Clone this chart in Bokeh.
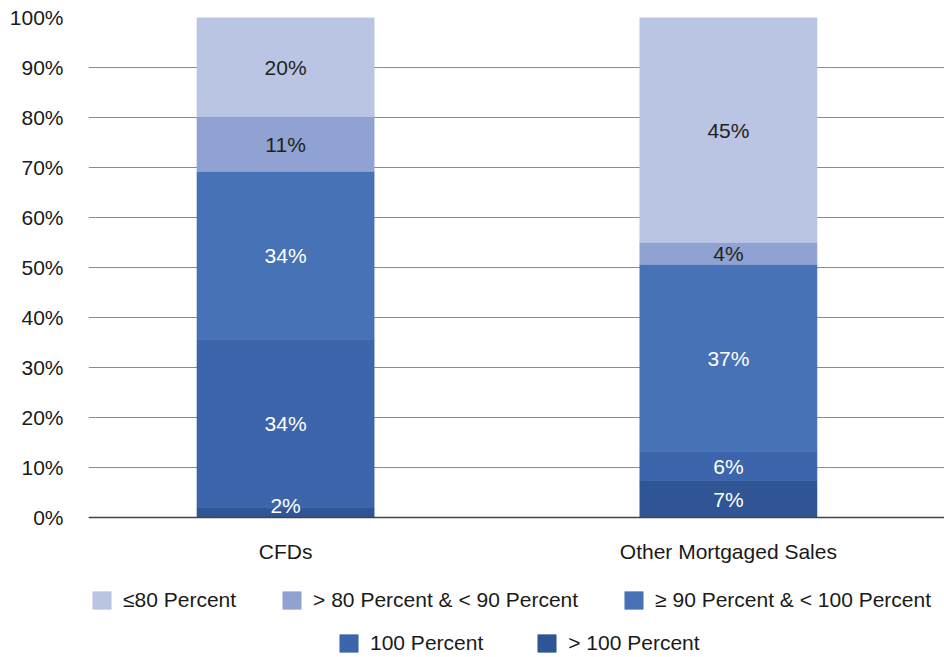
from bokeh.plotting import figure
from bokeh.models import Range1d, Legend, LegendItem, FixedTicker
from bokeh.embed import file_html
from bokeh.resources import INLINE
from bokeh.core.properties import value

# ---- data ----
categories = ["CFDs", "Other Mortgaged Sales"]
series_names = [
    "> 100 Percent",
    "100 Percent",
    "≥ 90 Percent & < 100 Percent",
    "> 80 Percent & < 90 Percent",
    "≤80 Percent",
]
gt100 = [1.9, 7.4]
eq100 = [33.7, 5.8]
ge90_lt100 = [33.6, 37.4]
gt80_lt90 = [11.0, 4.4]
le80 = [19.8, 45.0]
y_ticks = [0, 10, 20, 30, 40, 50, 60, 70, 80, 90, 100]

series_values = [gt100, eq100, ge90_lt100, gt80_lt90, le80]
colors = ["#2F5595", "#3D65AC", "#4872B6", "#8FA2D2", "#BAC4E3"]
label_colors = ["#FFFFFF", "#FFFFFF", "#FFFFFF", "#231F20", "#231F20"]
MIN_LABEL_Y = 2.4  # keep in-bar labels inside the plot

FONT = "Liberation Sans"
TEXT = "#1A1A1A"
xs = list(range(len(categories)))

# the frame runs down to the bottom of the page so the legend rows fit inside it
p = figure(
    width=944, height=655,
    min_border_left=88, min_border_right=0, min_border_top=17, min_border_bottom=0,
    x_range=Range1d(-0.445, 1.488), y_range=Range1d(-27.6, 100),
    output_backend="svg", toolbar_location=None,
)
p.outline_line_color = None
p.background_fill_color = "white"
p.border_fill_color = "white"

renderers = []
labels = []
bottoms = [0.0] * len(xs)
for vals, col, lcol in zip(series_values, colors, label_colors):
    tops = [b + v for b, v in zip(bottoms, vals)]
    r = p.vbar(x=xs, bottom=bottoms, top=tops, width=0.4,
               fill_color=col, line_color=col, line_width=0.6)
    renderers.append(r)
    mids = [max((b + t) / 2, MIN_LABEL_Y) for b, t in zip(bottoms, tops)]
    labels.append((mids, [f"{round(v)}%" for v in vals], lcol))
    bottoms = tops

for mids, txt, lcol in labels:
    p.text(x=xs, y=mids, text=txt,
           text_align="center", text_baseline="middle",
           text_font=value(FONT), text_font_size="21px", text_color=lcol)

# axes
p.xgrid.grid_line_color = None
p.ygrid.grid_line_color = "#8C8C8C"
p.ygrid.grid_line_width = 1
p.ygrid.ticker = FixedTicker(ticks=y_ticks)

p.yaxis.ticker = FixedTicker(ticks=y_ticks)
p.yaxis.major_label_overrides = {t: f"{t}%" for t in y_ticks}
p.yaxis.axis_line_color = None
p.yaxis.major_tick_line_color = None
p.yaxis.minor_tick_line_color = None
p.yaxis.major_tick_out = 0
p.yaxis.major_label_standoff = 25
p.yaxis.major_label_text_font = FONT
p.yaxis.major_label_text_font_size = "21px"
p.yaxis.major_label_text_color = TEXT

p.xaxis.fixed_location = 0
p.xaxis.ticker = FixedTicker(ticks=xs)
p.xaxis.major_label_overrides = {i: c for i, c in zip(xs, categories)}
p.xaxis.axis_line_color = "#444444"
p.xaxis.axis_line_width = 1.5
p.xaxis.major_tick_line_color = None
p.xaxis.minor_tick_line_color = None
p.xaxis.major_tick_out = 0
p.xaxis.major_label_standoff = 22
p.xaxis.major_label_text_font = FONT
p.xaxis.major_label_text_font_size = "21px"
p.xaxis.major_label_text_color = TEXT

def make_legend(idx, loc, spacing):
    return Legend(
        items=[LegendItem(label=series_names[i], renderers=[renderers[i]]) for i in idx],
        orientation="horizontal", location=loc,
        glyph_width=23, glyph_height=22, label_standoff=10, spacing=spacing,
        padding=0, margin=0, border_line_color=None, background_fill_alpha=0,
        label_text_font=FONT, label_text_font_size="21px", label_text_color=TEXT,
        label_height=22,
    )

p.add_layout(make_legend([4, 3, 2], (2, 43), 44), "center")
p.add_layout(make_legend([1, 0], (249, 0), 52), "center")

open("out.html", "w").write(file_html(p, INLINE))
